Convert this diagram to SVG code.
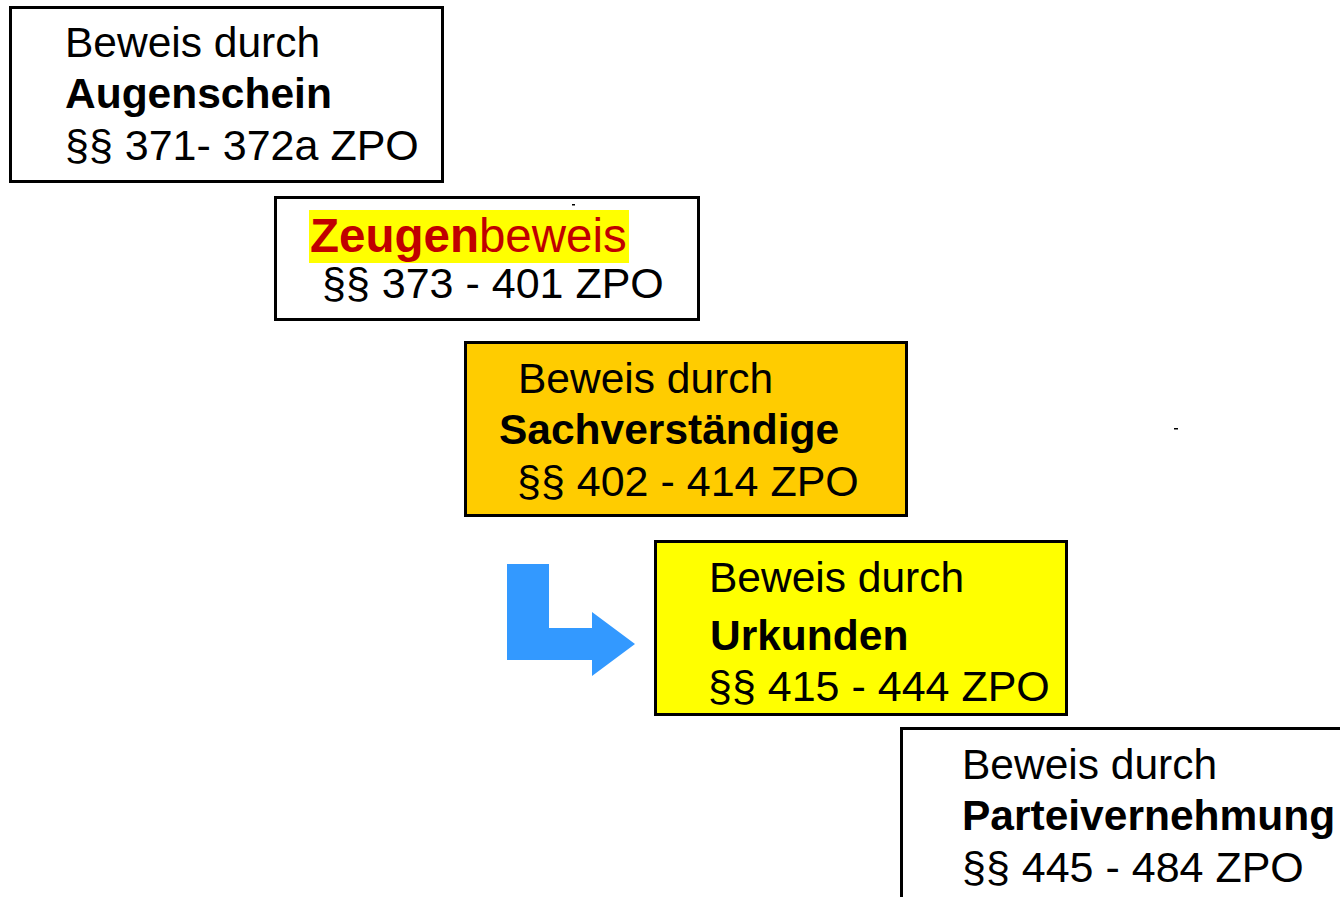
<svg xmlns="http://www.w3.org/2000/svg" width="1340" height="897" viewBox="0 0 1340 897">
<style>
.box{stroke:#000;stroke-width:3}
.t{font-family:"Liberation Sans",Arial,sans-serif;font-size:42.5px;fill:#000}
.p{font-size:43px}
.b{font-weight:bold}
</style>
<rect width="1340" height="897" fill="#fff"/>
<g id="connectors">
<path d="M507,564 H549 V628 H592 V612 L635,644 L592,676 V660 H507 Z" fill="#3399FF"/>
</g>
<g id="augenschein">
<rect class="box" x="10.5" y="7.5" width="432" height="174" fill="#fff"/>
<text class="t" x="65" y="57">Beweis durch</text>
<text class="t b" x="65" y="108">Augenschein</text>
<text class="t p" x="65" y="160">§§ 371- 372a ZPO</text>
</g>
<g id="zeugen">
<rect class="box" x="275.5" y="197.5" width="423" height="122" fill="#fff"/>
<rect x="309" y="210" width="320" height="53" fill="#FFFF00"/>
<rect x="572" y="204" width="3" height="1.5" fill="#000"/>
<text class="t" x="310" y="252" style="fill:#C00000;font-size:47.5px"><tspan class="b">Zeugen</tspan>beweis</text>
<text class="t p" x="322" y="298">§§ 373 - 401 ZPO</text>
</g>
<g id="sachverstaendige">
<rect class="box" x="465.5" y="342.5" width="441" height="173" fill="#FFCC00"/>
<text class="t" x="518" y="393">Beweis durch</text>
<text class="t b" x="499" y="444">Sachverständige</text>
<text class="t p" x="517" y="496">§§ 402 - 414 ZPO</text>
</g>
<rect x="1174" y="428" width="4" height="1.5" fill="#000"/>
<g id="urkunden">
<rect class="box" x="655.5" y="541.5" width="411" height="173" fill="#FFFF00"/>
<text class="t" x="709" y="592">Beweis durch</text>
<text class="t b" x="710" y="650">Urkunden</text>
<text class="t p" x="708" y="701">§§ 415 - 444 ZPO</text>
</g>
<g id="parteivernehmung">
<rect class="box" x="901.5" y="728.5" width="450" height="180" fill="#fff"/>
<text class="t" x="962" y="779">Beweis durch</text>
<text class="t b" x="962" y="830">Parteivernehmung</text>
<text class="t p" x="962" y="882">§§ 445 - 484 ZPO</text>
</g>
</svg>
